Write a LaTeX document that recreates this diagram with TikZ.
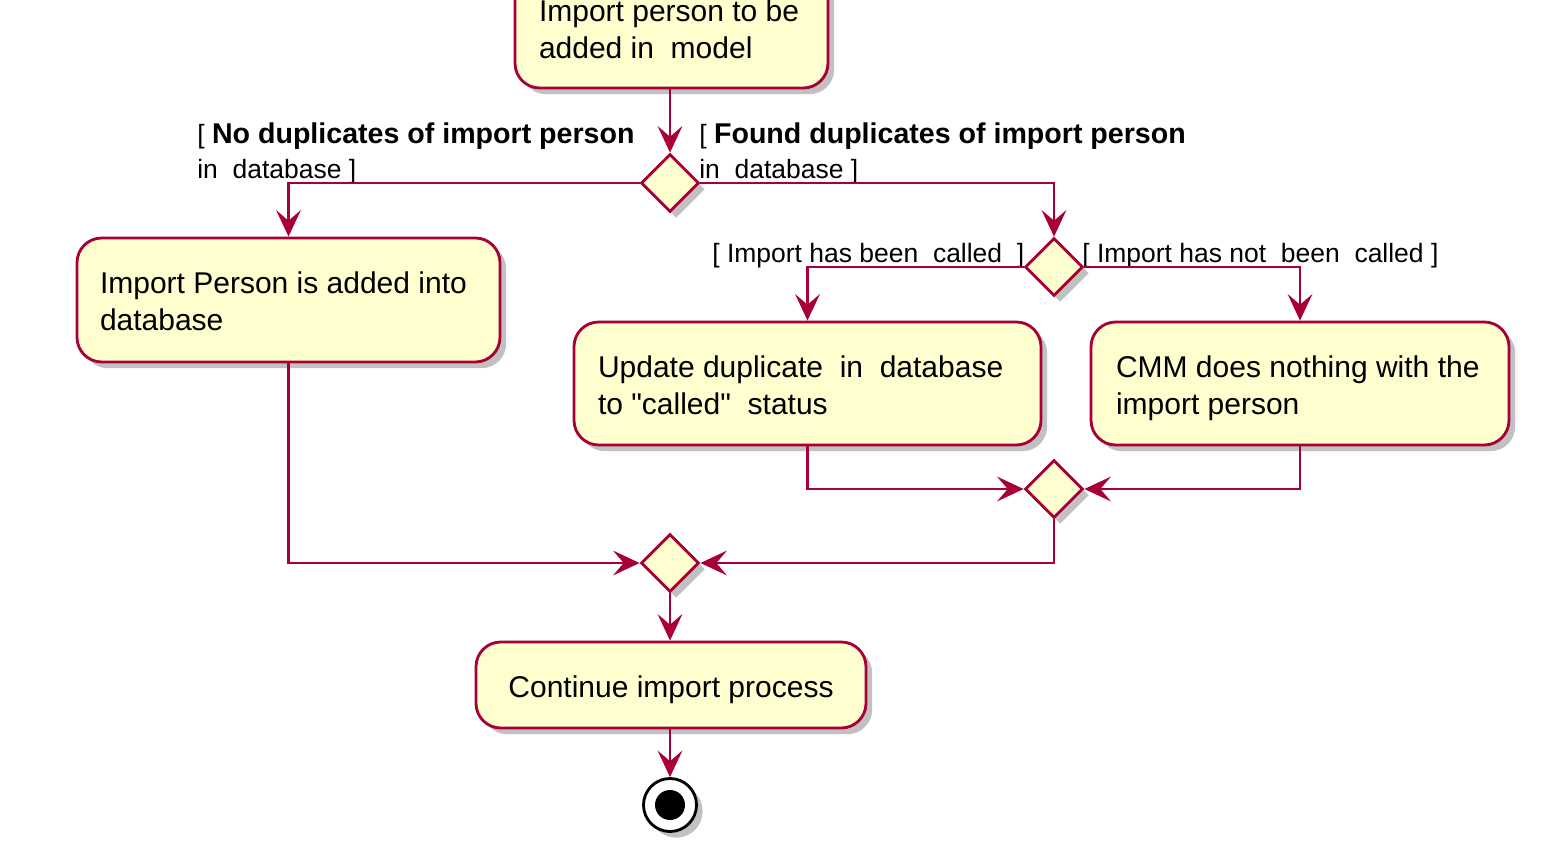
\documentclass[tikz,border=0pt]{standalone}
\usepackage{fontspec}
\setmainfont{Liberation Sans}[Ligatures=TeXOff]
\usetikzlibrary{arrows.meta,shapes.geometric,shadows}
\newlength\pxl
\setlength\pxl{0.5667pt}
\definecolor{bord}{HTML}{A80036}
\definecolor{boxfill}{HTML}{FEFECE}
\newcommand\bfl[1]{{\fontsize{16.2}{19}\selectfont\bfseries #1}}
\newcommand\lbox[2]{\makebox[#1\pxl][l]{\raisebox{0pt}[\dimexpr\height+10\pxl][\depth]{\begin{tabular}{@{}l@{}}#2\end{tabular}}}}
\tikzset{
  shd/.style={drop shadow={shadow xshift=3.5pt,shadow yshift=-3.5pt,opacity=0.35,fill=black!70}},
  act/.style={draw=bord,fill=boxfill,line width=1.6pt,rounded corners=14pt,shd,
    inner sep=0pt,font=\fontsize{17}{21}\selectfont,align=center},
  dec/.style={diamond,aspect=1,draw=bord,fill=boxfill,line width=1.6pt,shd,
    inner sep=0pt,minimum size=58\pxl},
  arr/.style={draw=bord,line width=1.6pt,-{Stealth[length=15pt,width=14pt,inset=6pt]}},
  lbl/.style={inner sep=0pt,anchor=base west,font=\fontsize{15}{19}\selectfont},
}
\begin{document}
\begin{tikzpicture}[x=\pxl,y=-\pxl]
\useasboundingbox (0,0) rectangle (1560,852);
% activities
\node[act,minimum width=313\pxl,minimum height=121\pxl] (top) at (671.5,27.5)
  {\lbox{265}{Import person to be\\added in\ \ model}};
\node[act,minimum width=423\pxl,minimum height=124\pxl] (add) at (288.5,300)
  {\lbox{377}{Import Person is added into\\database}};
\node[act,minimum width=467\pxl,minimum height=123\pxl] (upd) at (807.5,383.5)
  {\lbox{419}{Update duplicate\ \ in\ \ database\\to "called"\ \ status}};
\node[act,minimum width=418\pxl,minimum height=123\pxl] (cmm) at (1300,383.5)
  {\lbox{368}{CMM does nothing with the\\import person}};
\node[act,minimum width=390\pxl,minimum height=86\pxl] (cont) at (671,685)
  {\raisebox{0pt}[\dimexpr\height+10\pxl][\depth]{Continue import process}};
% decisions
\node[dec] (d1) at (670,183) {};
\node[dec] (d2) at (1054,267) {};
\node[dec] (d3) at (1054,489) {};
\node[dec] (d4) at (670,563) {};
% end
\node[circle,draw=black,fill=white,line width=1.6pt,minimum size=53\pxl,inner sep=0pt,shd] (end) at (670,805) {};
\node[circle,fill=black,minimum size=30\pxl,inner sep=0pt] (endin) at (end) {};
% labels
\node[lbl] (l1a) at (197,143) {[ \bfl{No duplicates of import person}};
\node[lbl] (l1b) at (197,178) {in\ \ database ]};
\node[lbl] (l2a) at (699,143) {[ \bfl{Found duplicates of import person}};
\node[lbl] (l2b) at (699,178) {in\ \ database ]};
\node[lbl] (l3) at (712,262) {[ Import has been\ \ called\ \ ]};
\node[lbl] (l4) at (1082,262) {[ Import has not\ \ been\ \ called ]};
% connectors
\draw[arr] (d1.north |- top.south) -- (d1.north);
\draw[arr] (d1.west) -| (add.north);
\draw[arr] (d1.east) -| (d2.north);
\draw[arr] (d2.west) -| (upd.north);
\draw[arr] (d2.east) -| (cmm.north);
\draw[arr] (upd.south) |- (d3.west);
\draw[arr] (cmm.south) |- (d3.east);
\draw[arr] (d3.south) |- (d4.east);
\draw[arr] (add.south) |- (d4.west);
\draw[arr] (d4.south) -- (d4.south |- cont.north);
\draw[arr] (end.north |- cont.south) -- (end.north);
\end{tikzpicture}
\end{document}
